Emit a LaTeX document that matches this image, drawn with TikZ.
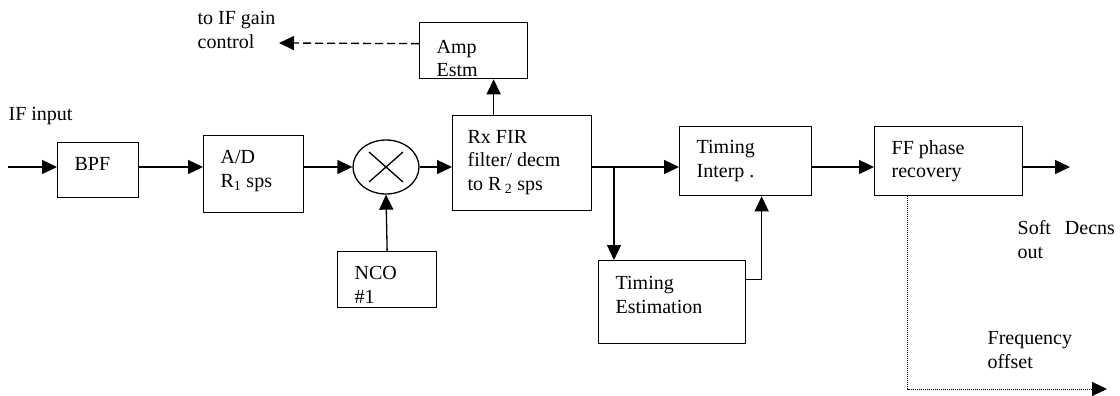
\documentclass[tikz,border=0pt]{standalone}
\usepackage{fontspec}
\setmainfont{Liberation Serif}
\usetikzlibrary{arrows.meta,shapes.geometric}

\def\mainY{167}

\begin{document}
\begin{tikzpicture}[x=1pt, y=-1pt, >={Triangle[length=15pt,width=14pt]},
    font=\fontsize{20}{23.5}\selectfont, line width=1.3pt,
    blk/.style={draw, anchor=north west, inner sep=0pt},
    txt/.style={anchor=west, xshift=17pt, align=left, inner sep=0pt},
    lbl/.style={anchor=west, align=left, inner sep=0pt},
    dashline/.style={dash pattern=on 8pt off 4pt},
    dotline/.style={line width=1pt, dash pattern=on 1pt off 1pt}]
  \useasboundingbox (0,0) rectangle (1120,396);
  % blocks
  \node[blk, minimum width=81pt, minimum height=55pt,
        label={[txt, yshift=6pt]west:BPF}] (bpf) at (57,142) {};
  \node[blk, minimum width=100pt, minimum height=77pt,
        label={[txt, yshift=3pt]west:A/D\\R\textsubscript{1} sps}] (ad) at (203,135) {};
  \node[draw, ellipse, minimum width=66pt, minimum height=54pt, inner sep=0pt] (mix) at (386,\mainY) {};
  \draw ([shift={(-17,-15)}]mix.center) -- ([shift={(17,15)}]mix.center);
  \draw ([shift={(-17,15)}]mix.center) -- ([shift={(17,-15)}]mix.center);
  \node[blk, minimum width=99pt, minimum height=56pt,
        label={[txt, yshift=-5pt]west:NCO\\\#1}] (nco) at (337,251) {};
  \node[blk, minimum width=139pt, minimum height=95pt,
        label={[txt, xshift=-2pt, yshift=1pt]west:Rx FIR\\filter/ decm\\to R\,\textsubscript{2} sps}] (rx) at (452,115) {};
  \node[blk, minimum width=108pt, minimum height=56pt,
        label={[txt, yshift=-8pt]west:Amp\\Estm}] (amp) at (419,22) {};
  \node[blk, minimum width=132pt, minimum height=69pt,
        label={[txt]west:Timing\\Interp .}] (ti) at (679,126) {};
  \node[blk, minimum width=147pt, minimum height=83pt,
        label={[txt, yshift=7pt]west:Timing\\Estimation}] (te) at (598,260) {};
  \node[blk, minimum width=148pt, minimum height=69pt,
        label={[txt]west:FF phase\\recovery}] (ff) at (874,126) {};
  % labels
  \node[lbl] (ifin) at (8,116) {IF input};
  \node[lbl] (gaintxt) at (197,30) {to IF gain\\control};
  \node[lbl] (softtxt) at (1017,239.5) {Soft\hspace{0.7em}Decns\\out};
  \node[lbl] (freqtxt) at (987,350) {Frequency\\offset};
  % free ends
  \coordinate (in) at (8,\mainY);
  \coordinate (gain) at (279,43);
  \coordinate (br) at (614,\mainY);
  \coordinate (soft) at (1070,\mainY);
  \coordinate (freq) at (1107,389);
  % connectors
  \draw[->] (in) -- (bpf.west |- in);
  \draw[->] (bpf.east |- in) -- (ad.west |- in);
  \draw[->] (ad.east |- in) -- (mix.west);
  \draw[->] (mix.east) -- (rx.west |- in);
  \draw[->] (nco.north) -- (mix.south);
  \draw[->] ([xshift=20pt]amp.south |- rx.north) -- ([xshift=20pt]amp.south);
  \draw[->, dashline] ([yshift=7pt]amp.west) -- (gain);
  \draw[->] (rx.east |- in) -- (ti.west |- in);
  \draw[->] (br) -- (br |- te.north);
  \draw[->] ([yshift=22.5pt]te.east) -| ([xshift=16pt]ti.south);
  \draw[->] (ti.east |- in) -- (ff.west |- in);
  \draw[->] (ff.east |- in) -- (soft);
  \draw[->, dotline] ([xshift=-41pt]ff.south) |- (freq);
\end{tikzpicture}
\end{document}
